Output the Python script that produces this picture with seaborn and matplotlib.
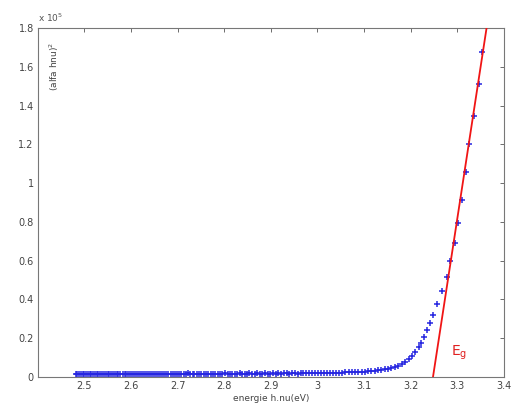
import matplotlib
matplotlib.use("Agg")
import matplotlib.pyplot as plt
import seaborn as sns
import pandas as pd

# ---- data ----
energy_steep = [3.354, 3.346, 3.335, 3.326, 3.318, 3.311, 3.302, 3.295, 3.284, 3.278,
                3.267, 3.256, 3.248, 3.242, 3.236, 3.229, 3.223, 3.217, 3.210, 3.203,
                3.196, 3.188, 3.181, 3.173, 3.166, 3.158, 3.151, 3.144, 3.137, 3.130,
                3.123, 3.116, 3.109, 3.102, 3.095, 3.088, 3.081, 3.074, 3.067, 3.060,
                3.053, 3.046]
alpha_steep = [1.678, 1.511, 1.346, 1.202, 1.056, 0.915, 0.796, 0.693, 0.598, 0.514,
               0.445, 0.376, 0.320, 0.277, 0.242, 0.208, 0.176, 0.153, 0.131, 0.110,
               0.093, 0.079, 0.067, 0.058, 0.052, 0.047, 0.043, 0.040, 0.037, 0.034,
               0.032, 0.030, 0.029, 0.028, 0.027, 0.026, 0.025, 0.025, 0.024, 0.024,
               0.023, 0.023]
energy_tail = [3.040, 3.033, 3.027, 3.020, 3.014, 3.007, 3.001, 2.995, 2.988, 2.982,
               2.976, 2.970, 2.964, 2.958, 2.952, 2.946, 2.940, 2.934, 2.928, 2.922,
               2.916, 2.910, 2.905, 2.899, 2.893, 2.888, 2.882, 2.876, 2.871, 2.865,
               2.860, 2.854, 2.849, 2.844, 2.838, 2.833, 2.828, 2.822, 2.817, 2.812,
               2.807, 2.801, 2.796, 2.791, 2.786, 2.781, 2.776, 2.771, 2.766, 2.761,
               2.756, 2.751, 2.746, 2.741, 2.736, 2.732, 2.727, 2.722, 2.717, 2.713,
               2.708, 2.703, 2.699, 2.694, 2.689, 2.685, 2.680, 2.676, 2.671, 2.667,
               2.662, 2.658, 2.653, 2.649, 2.645, 2.640, 2.636, 2.632, 2.627, 2.623,
               2.619, 2.615, 2.610, 2.606, 2.602, 2.598, 2.594, 2.590, 2.586, 2.582,
               2.577, 2.573, 2.569, 2.565, 2.561, 2.557, 2.553, 2.550, 2.546, 2.542,
               2.538, 2.534, 2.530, 2.526, 2.522, 2.519, 2.515, 2.511, 2.507, 2.504,
               2.500, 2.496, 2.492, 2.489, 2.485, 2.481]
alpha_tail = [0.022, 0.021, 0.022, 0.020, 0.021, 0.019, 0.020, 0.021, 0.018, 0.020,
              0.019, 0.018, 0.020, 0.017, 0.019, 0.018, 0.017, 0.019, 0.018, 0.016,
              0.018, 0.017, 0.019, 0.016, 0.017, 0.018, 0.016, 0.017, 0.019, 0.016,
              0.017, 0.018, 0.016, 0.017, 0.015, 0.018, 0.016, 0.017, 0.015, 0.017,
              0.016, 0.018, 0.015, 0.016, 0.017, 0.015, 0.016, 0.017, 0.015, 0.016,
              0.017, 0.015, 0.016, 0.017, 0.016, 0.015, 0.016, 0.018, 0.015, 0.016,
              0.017, 0.015, 0.016, 0.014, 0.017, 0.016, 0.015, 0.017, 0.014, 0.016,
              0.015, 0.017, 0.016, 0.014, 0.016, 0.015, 0.017, 0.014, 0.016, 0.015,
              0.016, 0.014, 0.017, 0.015, 0.016, 0.014, 0.015, 0.017, 0.015, 0.014,
              0.016, 0.015, 0.014, 0.016, 0.015, 0.017, 0.014, 0.015, 0.016, 0.014,
              0.015, 0.016, 0.014, 0.015, 0.016, 0.014, 0.015, 0.016, 0.014, 0.015,
              0.016, 0.015, 0.014, 0.016, 0.015, 0.014]
fit_energy = [3.248, 3.363]
fit_alpha = [0.0, 1.8]

x_ticks = [2.5, 2.6, 2.7, 2.8, 2.9, 3.0, 3.1, 3.2, 3.3, 3.4]
x_tick_labels = ["2.5", "2.6", "2.7", "2.8", "2.9", "3", "3.1", "3.2", "3.3", "3.4"]
y_ticks = [0, 0.2, 0.4, 0.6, 0.8, 1.0, 1.2, 1.4, 1.6, 1.8]
y_tick_labels = ["0", "0.2", "0.4", "0.6", "0.8", "1", "1.2", "1.4", "1.6", "1.8"]

df = pd.DataFrame({"energy": energy_steep + energy_tail,
                   "alpha": alpha_steep + alpha_tail})
fit_df = pd.DataFrame({"energy": fit_energy, "alpha": fit_alpha})

sns.set_theme(style="white")
plt.rcParams['font.family'] = ['DejaVu Sans']

fig = plt.figure(figsize=(5.12, 4.12), dpi=100)
ax = fig.add_axes([0.074, 0.085, 0.910, 0.847])

sns.scatterplot(data=df, x="energy", y="alpha", marker="+", s=20,
                color="#2626e0", linewidth=1.1, ax=ax, legend=False, zorder=2)
sns.lineplot(data=fit_df, x="energy", y="alpha", color="#f01515",
             linewidth=1.3, ax=ax, legend=False, zorder=3)

ax.set_xlim(2.4, 3.4)
ax.set_ylim(0, 1.8)
ax.set_xticks(x_ticks)
ax.set_xticklabels(x_tick_labels)
ax.set_yticks(y_ticks)
ax.set_yticklabels(y_tick_labels)
ax.tick_params(direction="in", length=3, width=0.6, colors="#555555",
               labelsize=7, top=True, right=True, labelcolor="#444444", pad=3)
for s in ax.spines.values():
    s.set_color("#777777")
    s.set_linewidth(0.8)

ax.set_xlabel("energie h.nu(eV)", fontsize=6.5, color="#444444", labelpad=2)
ax.set_ylabel("")
ax.text(0.035, 0.96, "(alfa hnu)$^2$", transform=ax.transAxes, rotation=90,
        fontsize=6.5, color="#444444", ha="center", va="top")
ax.text(0.0, 1.012, "x 10$^5$", transform=ax.transAxes, fontsize=6.5,
        color="#555555", ha="left", va="bottom")
ax.text(3.287, 0.075, "E$_\\mathregular{g}$", color="#e02020", fontsize=10,
        ha="left", va="bottom")

fig.savefig("out.png", dpi=100, facecolor="white")
